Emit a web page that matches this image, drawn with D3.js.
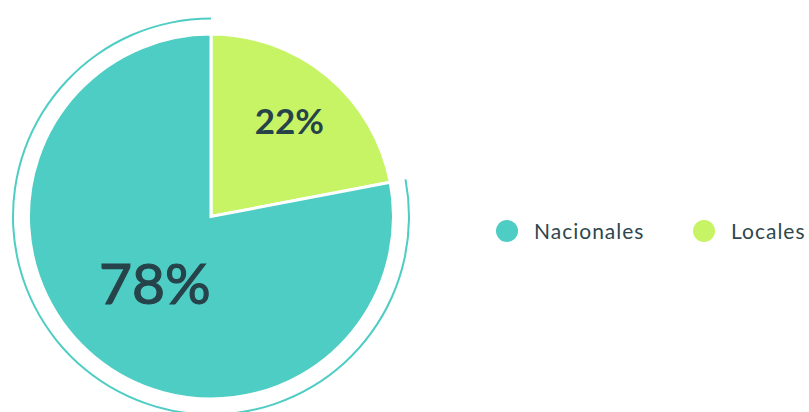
<!DOCTYPE html>
<html>
<head>
<meta charset="utf-8">
<script src="https://cdn.jsdelivr.net/npm/d3@7"></script>
<style>
  body { margin: 0; background: #fff; }
  svg { display: block; font-family: Lato, "Open Sans", sans-serif; }
</style>
</head>
<body>
<script>
var categories = ["Locales", "Nacionales"];
var values = [22, 78];
var colors = ["#C7F464", "#4ECDC4"];
var legendOrder = ["Nacionales", "Locales"];

var width = 809,
    height = 412,
    cx = 211,
    cy = 216.5,
    radius = 182.5;

var svg = d3.select("body").append("svg")
    .attr("width", width)
    .attr("height", height);

var color = d3.scaleOrdinal().domain(categories).range(colors);

var pie = d3.pie()
    .sort(null)
    .value(function(d) { return d.value; });

var data = categories.map(function(c, i) { return {name: c, value: values[i]}; });
var arcs = pie(data);

var arc = d3.arc().innerRadius(0).outerRadius(radius);

var g = svg.append("g").attr("transform", "translate(" + cx + "," + cy + ")");

g.selectAll("path.slice")
    .data(arcs)
  .enter().append("path")
    .attr("class", "slice")
    .attr("d", arc)
    .attr("fill", function(d) { return color(d.data.name); })
    .attr("stroke", "#fff")
    .attr("stroke-width", 3);

// outer ring around the biggest slice
var big = arcs[1];
g.append("path")
    .attr("d", d3.arc().innerRadius(197).outerRadius(199)
      .startAngle(big.startAngle).endAngle(big.endAngle)())
    .attr("fill", color(big.data.name));

// labels
var labelDist = [123, 88];
var labelSize = [35, 57];
var labelWeight = [700, 400];
var labelStroke = [0, 1.2];
g.selectAll("text.lbl")
    .data(arcs)
  .enter().append("text")
    .attr("class", "lbl")
    .attr("transform", function(d, i) {
      var a = (d.startAngle + d.endAngle) / 2;
      return "translate(" + (Math.sin(a) * labelDist[i]) + "," + (-Math.cos(a) * labelDist[i]) + ")";
    })
    .attr("text-anchor", "middle")
    .attr("dy", "0.35em")
    .attr("font-size", function(d, i) { return labelSize[i]; })
    .attr("font-weight", function(d, i) { return labelWeight[i]; })
    .attr("fill", "#27434a")
    .attr("stroke", "#27434a")
    .attr("stroke-width", function(d, i) { return labelStroke[i]; })
    .text(function(d) { return d.data.value + "%"; });

// legend
var legendX = d3.scalePoint().domain(legendOrder).range([507, 704]);
var lg = svg.selectAll("g.legend")
    .data(legendOrder)
  .enter().append("g")
    .attr("class", "legend")
    .attr("transform", function(d) { return "translate(" + legendX(d) + ",231)"; });

lg.append("circle")
    .attr("r", 11)
    .attr("fill", function(d) { return color(d); });

lg.append("text")
    .attr("x", 27)
    .attr("y", 8)
    .attr("font-size", 21)
    .attr("letter-spacing", 1)
    .attr("fill", "#2f474d")
    .text(function(d) { return d; });
</script>
</body>
</html>
